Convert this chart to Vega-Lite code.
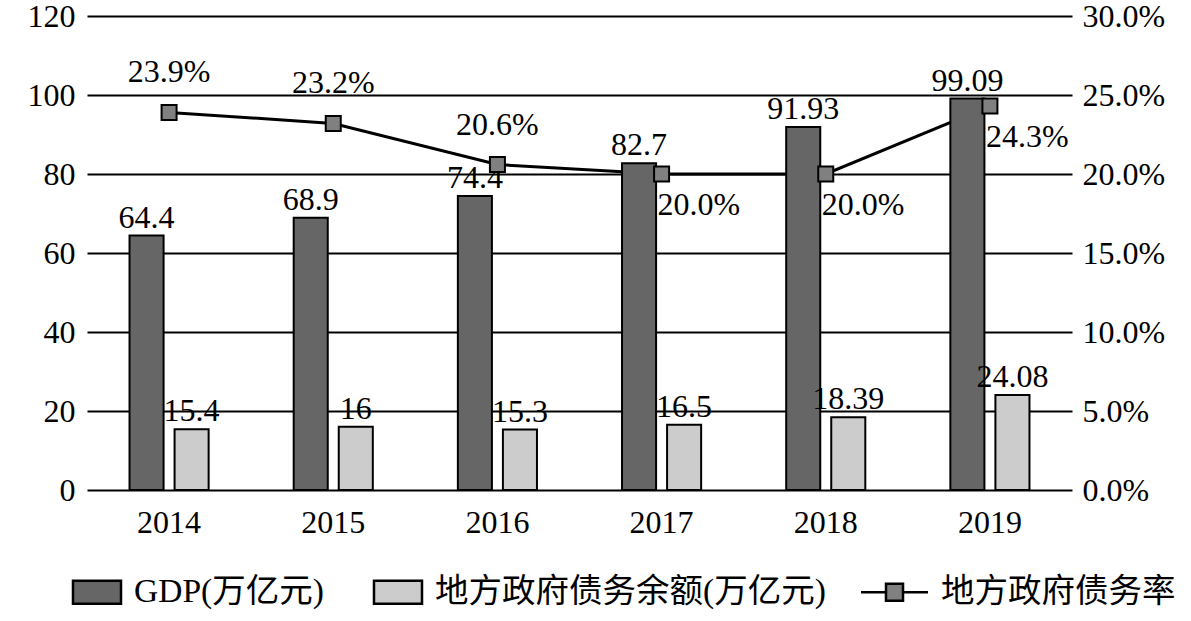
{
  "$schema": "https://vega.github.io/schema/vega-lite/v6.json",
  "width": 985,
  "height": 474,
  "autosize": {"type": "none"},
  "padding": {"left": 87, "top": 16, "right": 119, "bottom": 131},
  "background": "white",
  "config": {
    "view": {"stroke": null},
    "font": "Liberation Serif",
    "axis": {"labelFont": "Liberation Serif", "labelFontSize": 32, "labelColor": "black", "ticks": false, "domain": false, "title": null},
    "legend": {"labelFont": "Liberation Serif, Noto Sans CJK SC", "labelFontSize": 33.5, "labelColor": "black", "padding": 0, "labelLimit": 0}
  },
  "datasets": {
    "bars": [
      {"year": "2014", "series": "GDP(万亿元)", "value": 64.4},
      {"year": "2014", "series": "地方政府债务余额(万亿元)", "value": 15.4},
      {"year": "2015", "series": "GDP(万亿元)", "value": 68.9},
      {"year": "2015", "series": "地方政府债务余额(万亿元)", "value": 16},
      {"year": "2016", "series": "GDP(万亿元)", "value": 74.4},
      {"year": "2016", "series": "地方政府债务余额(万亿元)", "value": 15.3},
      {"year": "2017", "series": "GDP(万亿元)", "value": 82.7},
      {"year": "2017", "series": "地方政府债务余额(万亿元)", "value": 16.5},
      {"year": "2018", "series": "GDP(万亿元)", "value": 91.93},
      {"year": "2018", "series": "地方政府债务余额(万亿元)", "value": 18.39},
      {"year": "2019", "series": "GDP(万亿元)", "value": 99.09},
      {"year": "2019", "series": "地方政府债务余额(万亿元)", "value": 24.08}
    ],
    "rate": [
      {"year": "2014", "series": "地方政府债务率", "rate": 0.239},
      {"year": "2015", "series": "地方政府债务率", "rate": 0.232},
      {"year": "2016", "series": "地方政府债务率", "rate": 0.206},
      {"year": "2017", "series": "地方政府债务率", "rate": 0.200},
      {"year": "2018", "series": "地方政府债务率", "rate": 0.200},
      {"year": "2019", "series": "地方政府债务率", "rate": 0.243}
    ]
  },
  "layer": [
    {
      "data": {"name": "rate"},
      "mark": {"type": "line", "color": "black", "strokeWidth": 3},
      "encoding": {
        "x": {"field": "year", "type": "nominal", "scale": {"paddingInner": 0, "paddingOuter": 0}, "axis": {"orient": "bottom", "labelAngle": 0, "labelPadding": 17}},
        "y": {"field": "rate", "type": "quantitative", "scale": {"domain": [0, 0.3]}, "axis": null}
      }
    },
    {
      "data": {"name": "bars"},
      "encoding": {
        "x": {"field": "year", "type": "nominal"},
        "xOffset": {"field": "series", "type": "nominal", "scale": {"domain": ["GDP(万亿元)", "地方政府债务余额(万亿元)"], "paddingInner": 0.244, "paddingOuter": 0.944}},
        "y": {"field": "value", "type": "quantitative", "scale": {"domain": [0, 120]}, "axis": {"orient": "left", "values": [0, 20, 40, 60, 80, 100, 120], "grid": true, "gridColor": "black", "gridWidth": 2, "labelPadding": 12}}
      },
      "layer": [
        {
          "mark": {"type": "bar", "stroke": "black", "strokeWidth": 2},
          "encoding": {
            "fill": {
              "field": "series", "type": "nominal",
              "scale": {"domain": ["GDP(万亿元)", "地方政府债务余额(万亿元)", "地方政府债务率"], "range": ["#666666", "#cccccc", "#808080"]},
              "legend": {
                "title": null, "orient": "none", "direction": "horizontal", "legendX": -34.5, "legendY": 541,
                "symbolSize": 4489, "symbolStrokeWidth": 2.5, "symbolStrokeColor": "black", "labelOffset": 11.5, "columnPadding": 29, "labelLimit": 0,
                "encode": {"symbols": {"update": {"shape": {"signal": "datum.value === '地方政府债务率' ? 'M-1,0H-0.254M0.254,0H1M-0.254,-0.254H0.254V0.254H-0.254Z' : 'M-0.433,-0.343H1V0.343H-0.433Z'"}, "stroke": {"value": "black"}, "strokeWidth": {"value": 2.5}}}}
              }
            }
          }
        },
        {
          "mark": {"type": "text", "font": "Liberation Serif", "fontSize": 32, "color": "black", "baseline": "alphabetic", "dy": -8},
          "encoding": {"text": {"field": "value", "type": "quantitative"}}
        }
      ]
    },
    {
      "data": {"name": "rate"},
      "encoding": {
        "x": {"field": "year", "type": "nominal"},
        "y": {"field": "rate", "type": "quantitative", "scale": {"domain": [0, 0.3]}, "axis": {"orient": "right", "values": [0, 0.05, 0.1, 0.15, 0.2, 0.25, 0.3], "format": ".1%", "grid": false, "labelPadding": 10}}
      },
      "layer": [
        {
          "mark": {"type": "point", "shape": "square", "filled": true, "size": 225, "stroke": "black", "strokeWidth": 2, "opacity": 1},
          "encoding": {
            "fill": {
              "field": "series", "type": "nominal",
              "scale": {"domain": ["GDP(万亿元)", "地方政府债务余额(万亿元)", "地方政府债务率"], "range": ["#666666", "#cccccc", "#808080"]},
              "legend": {
                "title": null, "orient": "none", "direction": "horizontal", "legendX": -34.5, "legendY": 541,
                "symbolSize": 4489, "symbolStrokeWidth": 2.5, "symbolStrokeColor": "black", "labelOffset": 11.5, "columnPadding": 29, "labelLimit": 0,
                "encode": {"symbols": {"update": {"shape": {"signal": "datum.value === '地方政府债务率' ? 'M-1,0H-0.254M0.254,0H1M-0.254,-0.254H0.254V0.254H-0.254Z' : 'M-0.433,-0.343H1V0.343H-0.433Z'"}, "stroke": {"value": "black"}, "strokeWidth": {"value": 2.5}}}}
              }
            }
          }
        },
        {
          "transform": [{"filter": {"field": "year", "oneOf": ["2014", "2015", "2016"]}}],
          "mark": {"type": "text", "font": "Liberation Serif", "fontSize": 32, "color": "black", "baseline": "alphabetic", "dy": -30},
          "encoding": {"text": {"field": "rate", "type": "quantitative", "format": ".1%"}}
        },
        {
          "transform": [{"filter": {"field": "year", "oneOf": ["2017", "2018", "2019"]}}],
          "mark": {"type": "text", "font": "Liberation Serif", "fontSize": 32, "color": "black", "baseline": "alphabetic", "align": "left", "dx": -4, "dy": 41},
          "encoding": {"text": {"field": "rate", "type": "quantitative", "format": ".1%"}}
        }
      ]
    }
  ],
  "resolve": {"scale": {"y": "independent"}}
}
